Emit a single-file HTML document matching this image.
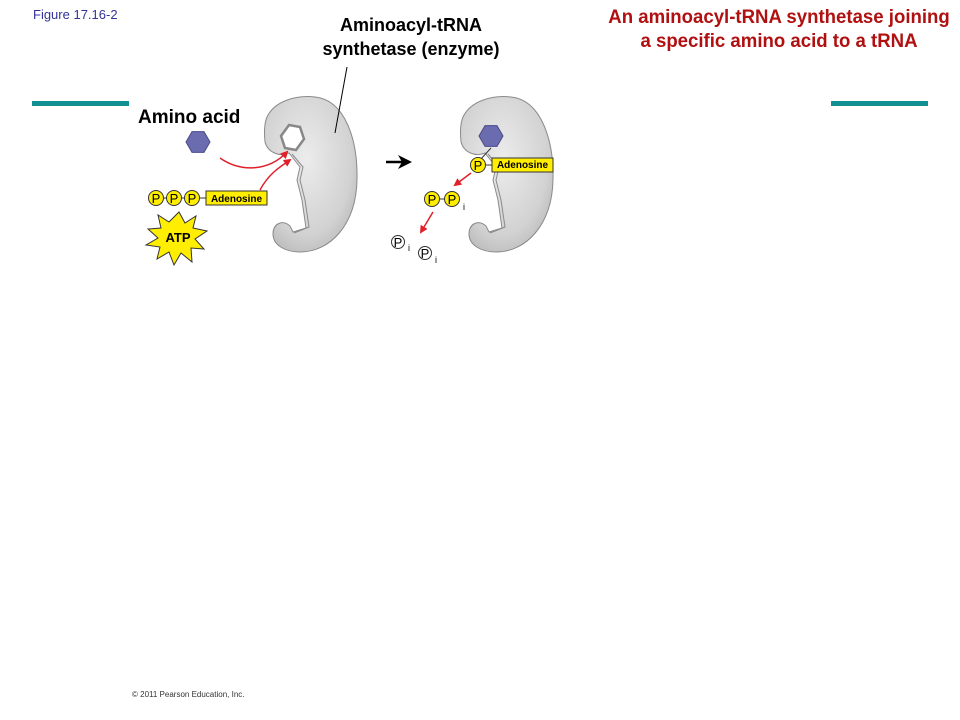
<!DOCTYPE html>
<html><head><meta charset="utf-8"><style>
html,body{margin:0;padding:0;background:#fff;}
svg{display:block;}
text{font-family:"Liberation Sans",sans-serif;}
</style></head><body>
<svg width="960" height="720" viewBox="0 0 960 720" xmlns="http://www.w3.org/2000/svg">
<defs>
<radialGradient id="eg" cx="0.45" cy="0.4" r="0.7">
<stop offset="0" stop-color="#ececec"/><stop offset="0.7" stop-color="#d2d2d2"/><stop offset="1" stop-color="#b4b4b4"/>
</radialGradient>
<marker id="ra" markerWidth="8" markerHeight="8" refX="6" refY="4" orient="auto" markerUnits="userSpaceOnUse">
<path d="M0,0 L8,4 L0,8 Z" fill="#e0202a"/></marker>
<g id="enz">
<path d="M267,117 C275,100 298,95 315,97 C345,100 358,140 357,180 C356,225 330,252 300,252 C285,252 273,245 273,234 C273,224 282,219 290,226 L293,232 L306,228 L302,200 L297,180 L300,167 L289,153 C280,157 268,153 265,142 C264,132 264,124 267,117 Z" fill="url(#eg)" stroke="#8a8a8a" stroke-width="1"/>
<path d="M292,154 L303,167 L300,180 L305,200 L309,227 L294,233" fill="none" stroke="#8a8a8a" stroke-width="1"/>
</g>
</defs>
<text x="33" y="19" font-size="13" fill="#333399">Figure 17.16-2</text>
<text x="411" y="31" font-size="18" font-weight="bold" text-anchor="middle">Aminoacyl-tRNA</text>
<text x="411" y="55" font-size="18" font-weight="bold" text-anchor="middle">synthetase (enzyme)</text>
<g fill="#b01010" font-size="19" font-weight="bold" text-anchor="middle">
<text transform="translate(779,23) scale(0.98,1)">An aminoacyl-tRNA synthetase joining</text>
<text transform="translate(779,47) scale(0.98,1)">a specific amino acid to a tRNA</text>
</g>
<rect x="32" y="101" width="97" height="5" fill="#109090"/>
<rect x="831" y="101" width="97" height="5" fill="#109090"/>
<text x="138" y="123" font-size="19" font-weight="bold">Amino acid</text>
<use href="#enz"/>
<line x1="347" y1="67" x2="335" y2="133" stroke="#000" stroke-width="1"/>
<polygon points="289,125 300,127 304,139 296,150 285,148 281,136" fill="#fff" stroke="#888" stroke-width="2.5"/>
<polygon points="210,142 204,152.4 192,152.4 186,142 192,131.6 204,131.6" fill="#6b6bb0" stroke="#4a4a8a" stroke-width="1"/>
<path d="M220,158 C240,172 268,172 287,152" fill="none" stroke="#e0202a" stroke-width="1.5" marker-end="url(#ra)"/>
<path d="M260,190 C268,175 278,168 290,160" fill="none" stroke="#e0202a" stroke-width="1.5" marker-end="url(#ra)"/>
<g font-size="13" text-anchor="middle">
<line x1="156" y1="198" x2="206" y2="198" stroke="#333"/>
<circle cx="156" cy="198" r="7.5" fill="#ffee00" stroke="#333"/><text x="156" y="203">P</text>
<circle cx="174" cy="198" r="7.5" fill="#ffee00" stroke="#333"/><text x="174" y="203">P</text>
<circle cx="192" cy="198" r="7.5" fill="#ffee00" stroke="#333"/><text x="192" y="203">P</text>
</g>
<rect x="206" y="191" width="61" height="14" fill="#ffee00" stroke="#333"/>
<text x="236.5" y="202" font-size="10" font-weight="bold" text-anchor="middle">Adenosine</text>
<polygon points="179,212 185,223 196,216 193,228 207,231 195,239 204,249 191,248 192,262 181,253 174,265 169,252 157,259 160,247 146,245 158,238 148,229 161,228 158,215 169,222" fill="#ffee00" stroke="#333"/>
<text x="178" y="242" font-size="13" font-weight="bold" text-anchor="middle">ATP</text>
<path d="M386,162 L406,162" stroke="#000" stroke-width="2.5"/>
<polygon points="398,155 412,162 398,169 402,162" fill="#000"/>
<use href="#enz" transform="translate(196,0)"/>
<line x1="491" y1="148" x2="480" y2="160" stroke="#333"/>
<polygon points="503,136 497,146.4 485,146.4 479,136 485,125.6 497,125.6" fill="#6b6bb0" stroke="#4a4a8a" stroke-width="1"/>
<line x1="478" y1="165" x2="492" y2="165" stroke="#333"/>
<circle cx="478" cy="165" r="7.5" fill="#ffee00" stroke="#333"/>
<text x="478" y="170" font-size="13" text-anchor="middle">P</text>
<rect x="492" y="158" width="61" height="14" fill="#ffee00" stroke="#333"/>
<text x="522.5" y="168" font-size="10" font-weight="bold" text-anchor="middle">Adenosine</text>
<line x1="471" y1="173" x2="455" y2="185" stroke="#e0202a" stroke-width="1.5" marker-end="url(#ra)"/>
<line x1="432" y1="199" x2="452" y2="199" stroke="#333"/>
<circle cx="432" cy="199" r="7.5" fill="#ffee00" stroke="#333"/>
<text x="432" y="204" font-size="13" text-anchor="middle">P</text>
<circle cx="452" cy="199" r="7.5" fill="#ffee00" stroke="#333"/>
<text x="452" y="204" font-size="13" text-anchor="middle">P</text>
<text x="463" y="210" font-size="9">i</text>
<line x1="433" y1="212" x2="421" y2="232" stroke="#e0202a" stroke-width="1.5" marker-end="url(#ra)"/>
<circle cx="398" cy="242" r="6.5" fill="#fff" stroke="#333"/>
<text x="398" y="247" font-size="13" text-anchor="middle">P</text>
<text x="408" y="251" font-size="9">i</text>
<circle cx="425" cy="253" r="6.5" fill="#fff" stroke="#333"/>
<text x="425" y="258" font-size="13" text-anchor="middle">P</text>
<text x="435" y="263" font-size="9">i</text>
<text x="132" y="697" font-size="8" fill="#333">© 2011 Pearson Education, Inc.</text>
</svg>
</body></html>
